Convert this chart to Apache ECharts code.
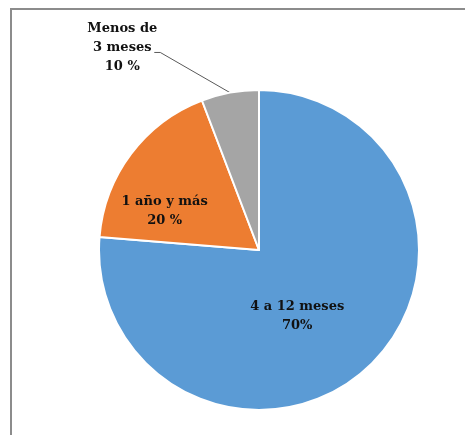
<!DOCTYPE html>
<html><head><meta charset="utf-8">
<script src="https://cdn.jsdelivr.net/npm/echarts@6/dist/echarts.min.js"></script>
<style>
html,body{margin:0;padding:0;background:#fff;}
#frame{position:absolute;left:10px;top:8px;width:470px;height:440px;border-top:2px solid #8c8c8c;border-left:2px solid #8c8c8c;}
#chart{position:absolute;left:0;top:0;width:465px;height:435px;}
</style></head>
<body>
<div id="frame"></div>
<div id="chart"></div>
<script>
const categories = ['4 a 12 meses', '1 año y más', 'Menos de 3 meses'];
const values = [76.3, 17.9, 5.8];
const labelTexts = ['4 a 12 meses\n70%', '1 año y más\n20 %', 'Menos de\n3 meses\n10 %'];
const colors = ['#5B9BD5', '#ED7D31', '#A5A5A5'];

const labelShift = [[-18, 5], [-28, 11], [-91, -30]];

const chart = echarts.init(document.getElementById('chart'), null, {renderer: 'canvas'});
chart.setOption({
  animation: false,
  series: [{
    type: 'pie',
    center: [259, 250],
    radius: 160,
    startAngle: 90,
    clockwise: true,
    avoidLabelOverlap: false,
    itemStyle: {borderColor: '#ffffff', borderWidth: 2},
    label: {
      position: 'inside',
      fontFamily: 'DejaVu Serif',
      fontWeight: 'bold',
      fontSize: 13,
      lineHeight: 19,
      color: '#111111',
      align: 'center',
      formatter: function (p) { return labelTexts[p.dataIndex]; }
    },
    labelLine: {show: false},
    labelLayout: function (p) {
      const s = labelShift[p.dataIndex];
      const res = {dx: s[0], dy: s[1]};
      if (p.dataIndex === 2 && p.labelLinePoints) {
        const r = p.labelRect;
        const cx = r.x + r.width + s[0];
        const x2 = cx + r.width / 2 - 3;
        const y2 = r.y + r.height * 0.58 + s[1];
        res.align = 'center';
        res.labelLinePoints = [p.labelLinePoints[0], [x2 + 6, y2], [x2, y2]];
      }
      return res;
    },
    data: categories.map(function (c, i) {
      const d = {name: c, value: values[i], itemStyle: {color: colors[i]}};
      if (i === 2) {
        d.label = {position: 'outside', distanceToLabelLine: 4};
        d.labelLine = {show: true, length: 15, length2: 10, lineStyle: {color: '#595959', width: 1}};
      }
      return d;
    })
  }]
});
</script>
</body></html>
